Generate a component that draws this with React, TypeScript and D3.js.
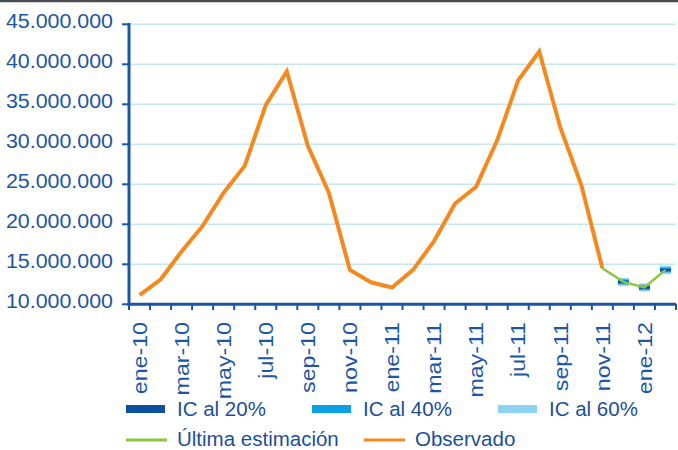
import React, { useEffect, useRef } from 'react';
import * as d3 from 'd3';

// categories (monthly, ene-10 .. feb-12)
const categories = [
  'ene-10', 'feb-10', 'mar-10', 'abr-10', 'may-10', 'jun-10', 'jul-10', 'ago-10', 'sep-10', 'oct-10', 'nov-10', 'dic-10',
  'ene-11', 'feb-11', 'mar-11', 'abr-11', 'may-11', 'jun-11', 'jul-11', 'ago-11', 'sep-11', 'oct-11', 'nov-11', 'dic-11',
  'ene-12', 'feb-12',
];

// observed series (ene-10 .. nov-11)
const observado = [
  11150000, 13100000, 16600000, 19800000, 23950000, 27300000, 34900000, 39100000, 29800000, 23950000, 14300000, 12750000,
  12100000, 14300000, 17900000, 22600000, 24700000, 30500000, 38000000, 41600000, 32100000, 24900000, 14500000,
];

// last estimate (nov-11 .. feb-12)
const estimacionCats = ['nov-11', 'dic-11', 'ene-12', 'feb-12'];
const estimacion = [14500000, 12800000, 12100000, 14300000];

// confidence intervals (dic-11 .. feb-12)
const icCats = ['dic-11', 'ene-12', 'feb-12'];
const ic60Low = [12300000, 11600000, 13800000];
const ic60High = [13300000, 12600000, 14800000];
const ic40Low = [12500000, 11800000, 14000000];
const ic40High = [13100000, 12400000, 14600000];
const ic20Low = [12650000, 11950000, 14150000];
const ic20High = [12950000, 12250000, 14450000];

const yTicks = [10000000, 15000000, 20000000, 25000000, 30000000, 35000000, 40000000, 45000000];

const legendRow1 = [
  { label: 'IC al 20%', color: '#0d4f9f' },
  { label: 'IC al 40%', color: '#0aa0e2' },
  { label: 'IC al 60%', color: '#8dd3f2' },
];
const legendRow2 = [
  { label: 'Última estimación', color: '#8cc63e' },
  { label: 'Observado', color: '#f48a1f' },
];

const W = 678;
const H = 450;
const FONT = '"Liberation Sans", Arial, Helvetica, sans-serif';
const AXIS = '#1a56a5';
const TEXT = '#1d56a3';

export default function App() {
  const svgRef = useRef<SVGSVGElement>(null);

  useEffect(() => {
    const svg = d3.select(svgRef.current).html('');

    const x = d3.scaleBand().domain(categories).range([129, 676]).padding(0);
    const y = d3.scaleLinear().domain([10000000, 45000000]).range([304.3, 24.3]);
    const cx = (c: string) => (x(c) as number) + x.bandwidth() / 2;
    const fmt = (v: number) => d3.format(',')(v).replace(/,/g, '.');

    // top rule (cut-off frame)
    svg.append('line')
      .attr('x1', 0).attr('x2', W).attr('y1', 1).attr('y2', 1)
      .attr('stroke', '#4a4d52').attr('stroke-width', 2.5);

    // gridlines
    svg.append('g').selectAll('line')
      .data(yTicks.slice(1))
      .enter().append('line')
      .attr('x1', 129).attr('x2', 676)
      .attr('y1', d => y(d)).attr('y2', d => y(d))
      .attr('stroke', '#c4e7f5').attr('stroke-width', 1.5);

    // y ticks + labels
    const yg = svg.append('g');
    yTicks.forEach(t => {
      yg.append('line')
        .attr('x1', 122).attr('x2', 129).attr('y1', y(t)).attr('y2', y(t))
        .attr('stroke', AXIS).attr('stroke-width', 2);
      yg.append('text')
        .attr('transform', `translate(113,${y(t) + 4}) scale(1.07,1)`)
        .attr('text-anchor', 'end')
        .attr('font-family', FONT).attr('font-size', 20)
        .attr('fill', TEXT)
        .text(fmt(t));
    });

    // x ticks (band boundaries)
    const bounds = categories.map(c => x(c) as number).concat([676]);
    svg.append('g').selectAll('line')
      .data(bounds)
      .enter().append('line')
      .attr('x1', d => d).attr('x2', d => d)
      .attr('y1', 304).attr('y2', 310)
      .attr('stroke', AXIS).attr('stroke-width', 2);

    // x labels (every other month)
    svg.append('g').selectAll('text')
      .data(categories.filter((_, i) => i % 2 === 0))
      .enter().append('text')
      .attr('transform', d => `translate(${cx(d)},322) rotate(-90) scale(1.16,1)`)
      .attr('text-anchor', 'end')
      .attr('dy', '0.36em')
      .attr('font-family', FONT).attr('font-size', 20)
      .attr('fill', TEXT)
      .text(d => d);

    // axes
    svg.append('line')
      .attr('x1', 129).attr('x2', 129).attr('y1', 23).attr('y2', 305.5)
      .attr('stroke', AXIS).attr('stroke-width', 3);
    svg.append('line')
      .attr('x1', 127.5).attr('x2', 676).attr('y1', 304.3).attr('y2', 304.3)
      .attr('stroke', AXIS).attr('stroke-width', 3);

    // observed line
    const line = d3.line<[string, number]>().x(d => cx(d[0])).y(d => y(d[1]));
    svg.append('path')
      .datum(observado.map((v, i) => [categories[i], v] as [string, number]))
      .attr('d', line)
      .attr('fill', 'none').attr('stroke', '#f48a1f').attr('stroke-width', 4)
      .attr('stroke-linejoin', 'miter');

    // confidence interval boxes
    const icLayers = [
      { low: ic60Low, high: ic60High, color: '#8dd3f2' },
      { low: ic40Low, high: ic40High, color: '#0aa0e2' },
      { low: ic20Low, high: ic20High, color: '#0d4f9f' },
    ];
    icLayers.forEach(layer => {
      svg.append('g').selectAll('rect')
        .data(icCats)
        .enter().append('rect')
        .attr('x', d => cx(d) - 5.5)
        .attr('width', 11)
        .attr('y', (d, i) => y(layer.high[i]))
        .attr('height', (d, i) => y(layer.low[i]) - y(layer.high[i]))
        .attr('fill', layer.color);
    });

    // last estimate line
    svg.append('path')
      .datum(estimacion.map((v, i) => [estimacionCats[i], v] as [string, number]))
      .attr('d', line)
      .attr('fill', 'none').attr('stroke', '#8cc63e').attr('stroke-width', 2.5);

    // legend
    const lg = svg.append('g').attr('font-family', FONT).attr('font-size', 20.5).attr('fill', '#1b4f9c');
    const row1X = [126, 312, 498];
    legendRow1.forEach((d, i) => {
      lg.append('rect').attr('x', row1X[i]).attr('y', 405).attr('width', 39).attr('height', 8).attr('fill', d.color);
      lg.append('text').attr('x', row1X[i] + 51).attr('y', 416).text(d.label);
    });
    const row2X = [126, 364];
    const row2T = [177, 415];
    legendRow2.forEach((d, i) => {
      lg.append('line')
        .attr('x1', row2X[i]).attr('x2', row2X[i] + 41).attr('y1', 440).attr('y2', 440)
        .attr('stroke', d.color).attr('stroke-width', 3);
      lg.append('text').attr('x', row2T[i]).attr('y', 445.5).text(d.label);
    });
  }, []);

  return (
    <svg
      ref={svgRef}
      width={W}
      height={H}
      style={{ position: 'absolute', left: 0, top: 0, background: '#fff' }}
    />
  );
}
